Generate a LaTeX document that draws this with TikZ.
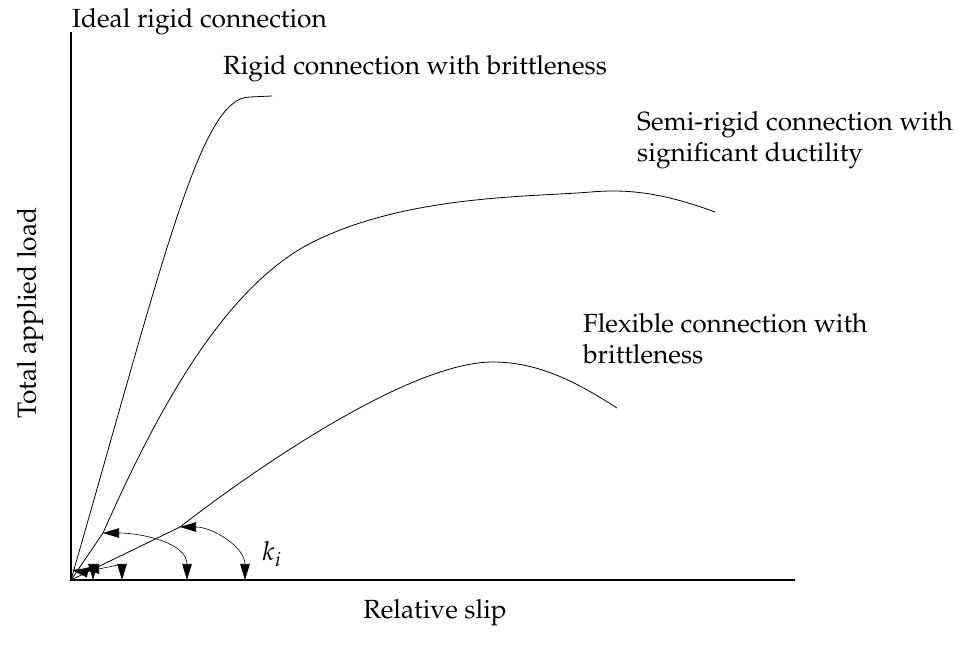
\documentclass[tikz,border=0pt]{standalone}
\usepackage[T1]{fontenc}
\usepackage{mathpazo}
\usepackage{amsmath, amssymb}
\usetikzlibrary{arrows.meta, positioning}

\begin{document}
\begin{tikzpicture}[x=1pt, y=1pt, font=\fontsize{26.3}{31}\selectfont,
    >={Triangle[length=16pt,width=9.5pt]},
    curve/.style={line width=0.8pt},
    lbl/.style={anchor=west, align=left, inner sep=0pt}]
	\useasboundingbox (-71,-75) rectangle (888,580);

	\coordinate (O) at (0,0);
	\coordinate (xend) at (724,0);
	\coordinate (yend) at (0,548);
	\draw[line width=1.1pt] (yend) -- (O) -- (xend);

	\node (ideal) [anchor=base west, inner sep=0pt] at (1,552) {Ideal rigid connection};
	\node (rigid) [anchor=base west, inner sep=0pt] at (152,505) {Rigid connection with brittleness};
	\node (semi) [lbl] at (566,440) {Semi-rigid connection with\\significant ductility};
	\node (flex) [lbl] at (512,241) {Flexible connection with\\brittleness};
	\node (load) [rotate=90] at (-41,267) {Total applied load};
	\node (slip) at (364,-33) {Relative slip};
	\node (ki) [anchor=base west, inner sep=0pt] at (191,19) {$k_i$};

	% ends of the initial stiffness arcs
	\coordinate (a1) at (1,10);
	\coordinate (b1) at (22,0);
	\coordinate (a2) at (12,11);
	\coordinate (b2) at (51,0);
	\coordinate (a3) at (32,47);
	\coordinate (b3) at (116,0);
	\coordinate (a4) at (109,53);
	\coordinate (b4) at (174,0);

	% load-slip curves
	\draw[curve] (O) .. controls (95,330) and (130,483) .. (179,483) -- (201,484);
	\draw[curve] (O) -- (a3) .. controls (80,155) and (150,295) .. (246,340)
	  .. controls (340,385) and (460,383) .. (520,388)
	  .. controls (555,391) and (590,388) .. (644,368);
	\draw[curve] (O) -- (a4) .. controls (189,115) and (340,218) .. (422,218)
	  .. controls (470,218) and (510,195) .. (546,172);

	\path[<->, line width=0.6pt]
	  (a1) edge[out=-10, in=90] (b1)
	  (a2) edge[out=0, in=90] (b2)
	  (a3) edge[out=0, in=90] (b3)
	  (a4) edge[out=0, in=90] (b4);
\end{tikzpicture}
\end{document}
